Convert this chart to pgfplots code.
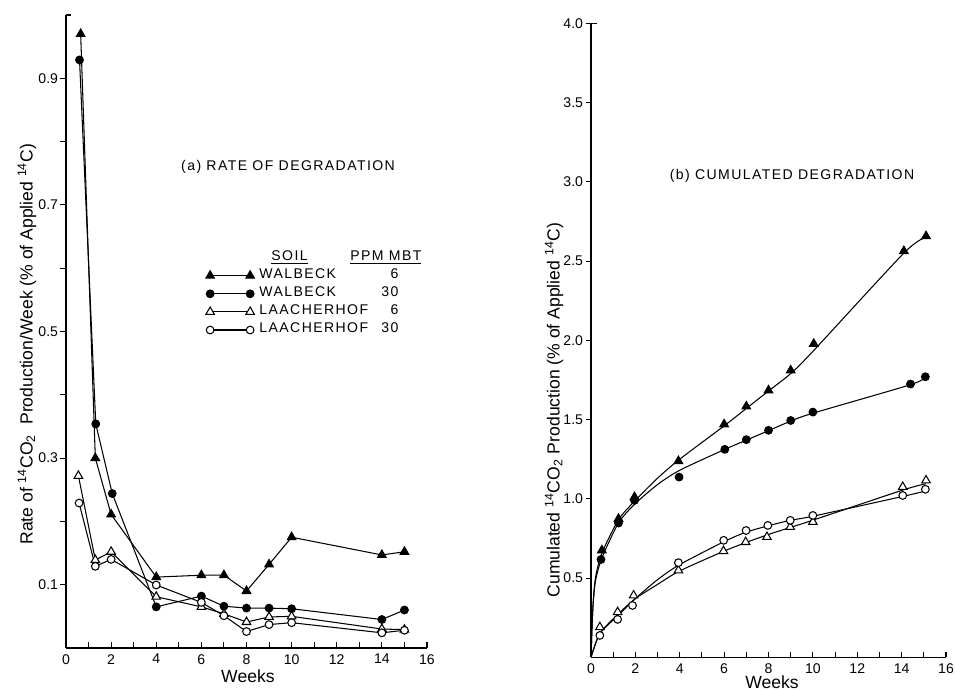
\documentclass[border=0pt]{standalone}
\usepackage{fontspec}
\setmainfont{Liberation Sans}
\newfontfamily\capsfont[LetterSpace=10]{Liberation Sans}
\usepackage{pgfplots}
\pgfplotsset{compat=1.18}

\newcommand\tickfont{\fontsize{8}{9.6}\selectfont}
\newcommand\labfont{\fontsize{9.5}{11}\selectfont}

\pgfplotsset{
  degr/.style={
    scale only axis,
    axis lines=left, axis line style={-, line width=0.6pt},
    xmin=0, xmax=16, ymin=0,
    xtick={0,2,...,16}, minor xtick={1,3,...,15},
    tick align=inside,
    major tick length=0.11cm, minor tick length=0.11cm,
    every tick/.style={black, line width=0.6pt},
    every major y tick/.append style={xshift=-0.11cm},
    every minor y tick/.append style={xshift=-0.11cm},
    /pgf/number format/assume math mode=true,
    tick label style={font=\tickfont},
    yticklabel style={/pgf/number format/fixed,
      /pgf/number format/precision=1,
      /pgf/number format/fixed zerofill, xshift=-1pt},
    xlabel={Weeks}, ylabel style={font=\labfont},
    xlabel style={font=\bfseries\fontsize{7.5}{9}\selectfont},
  },
  ln/.style={black, line width=0.6pt},
}

\begin{document}
\begin{tikzpicture}
\path[use as bounding box] (0,0) rectangle (19.1cm,13.8cm);

% (a) rate of degradation
\begin{axis}[degr,
  at={(1.32cm,0.84cm)}, anchor=south west,
  width=7.22cm, height=12.66cm,
  ymax=1.0,
  ytick={0.1,0.3,0.5,0.7,0.9}, minor ytick={0.2,0.4,0.6,0.8},
  every axis x label/.style={at={(axis description cs:0.504,0)}, anchor=center, yshift=-0.56cm},
  every axis y label/.style={at={(axis description cs:-0.108,0.48)}, rotate=90, anchor=center},
  ylabel={Rate of \textsuperscript{14}CO\textsubscript{2}\ \ Production/Week (\% of Applied \textsuperscript{14}C)},
  legend image code/.code={\draw[mark repeat=1,mark phase=1,#1] plot coordinates {(0cm,0cm) (0.8cm,0cm)};},
  legend style={draw=none, fill=none, at={(axis cs:6.2,0.631)}, anchor=north west,
    inner sep=0pt, outer sep=0pt, font=\capsfont\tickfont, column sep=0.1cm,
    nodes={inner sep=0pt, text height=6.8pt, text depth=3.5pt}},
  legend cell align=left,
]
\addlegendimage{empty legend}
\addlegendentry{\makebox[3.24cm][l]{\hspace{0.24cm}\underline{SOIL}\hfill\underline{PPM MBT}}}

\addplot[ln, mark=triangle*, mark size=2.8pt, mark options={fill=black, solid}] coordinates {
  (0.65,0.970) (1.3,0.300) (2.0,0.211) (4,0.112) (6,0.115) (7,0.115)
  (8,0.090) (9,0.132) (10,0.175) (14,0.147) (15,0.152)};
\addlegendentry{\makebox[3.24cm][l]{WALBECK\hfill 6\hspace{0.46cm}}}

\addplot[ln, mark=*, mark size=2.2pt, mark options={fill=black, solid}] coordinates {
  (0.6,0.929) (1.32,0.354) (2.05,0.244) (4,0.065) (6,0.082) (7,0.066)
  (8,0.063) (9,0.063) (10,0.062) (14,0.045) (15,0.060)};
\addlegendentry{\makebox[3.24cm][l]{WALBECK\hfill 30\hspace{0.46cm}}}

\addplot[ln, mark=triangle*, mark size=2.8pt, mark options={fill=white, solid}] coordinates {
  (0.55,0.272) (1.3,0.139) (2,0.152) (4,0.081) (6,0.065) (7,0.054)
  (8,0.041) (9,0.049) (10,0.050) (14,0.030) (15,0.029)};
\addlegendentry{\makebox[3.24cm][l]{LAACHERHOF\hfill 6\hspace{0.46cm}}}

\addplot[ln, mark=*, mark size=2.2pt, mark options={fill=white, solid}] coordinates {
  (0.58,0.229) (1.3,0.129) (2,0.140) (4,0.0995) (6,0.072) (7,0.051)
  (8,0.026) (9,0.037) (10,0.040) (14,0.024) (15,0.028)};
\addlegendentry{\makebox[3.24cm][l]{LAACHERHOF\hfill 30\hspace{0.46cm}}}

\node[font=\capsfont\tickfont] at (axis cs:9.84,0.76) {(a) RATE OF DEGRADATION};
\draw[line width=0.6pt] (axis cs:0,1) -- ++(0.11cm,0);
\end{axis}

% (b) cumulated degradation
\begin{axis}[degr,
  at={(11.82cm,0.654cm)}, anchor=south west,
  width=7.1cm, height=12.68cm,
  ymax=4.0,
  ytick={0.5,1.0,1.5,2.0,2.5,3.0,3.5,4.0},
  every axis x label/.style={at={(axis description cs:0.51,0)}, anchor=center, yshift=-0.5cm},
  every axis y label/.style={at={(axis description cs:-0.104,0.39)}, rotate=90, anchor=center},
  ylabel={Cumulated \textsuperscript{14}CO\textsubscript{2}\ Production (\% of Applied \textsuperscript{14}C)},
]
% fitted curves
\addplot[ln, smooth, tension=0.45] coordinates {
  (0,0) (0.08,0.3) (0.2,0.5) (0.5,0.66) (1.25,0.87) (2,0.99) (3,1.13) (4,1.25)
  (6,1.46) (7,1.57) (8,1.68) (9,1.79) (10,1.93) (14.1,2.55) (15.1,2.65)};
\addplot[ln, smooth, tension=0.45] coordinates {
  (0,0) (0.08,0.3) (0.2,0.48) (0.5,0.63) (1.25,0.85) (2,0.97) (3,1.09) (4,1.18)
  (6,1.31) (7,1.37) (8,1.43) (9,1.49) (10,1.54) (14.4,1.72) (15.1,1.77)};
\addplot[ln, smooth, tension=0.45] coordinates {
  (0,0) (0.4,0.15) (1.2,0.27) (2,0.37) (3,0.46) (4,0.545) (6,0.67) (7,0.725)
  (8,0.775) (9,0.82) (10,0.865) (14.05,1.055) (15.1,1.095)};
\addplot[ln, smooth, tension=0.45] coordinates {
  (0,0) (0.4,0.15) (1.2,0.26) (2,0.37) (3,0.49) (4,0.585) (6,0.73) (7,0.79)
  (8,0.83) (9,0.865) (10,0.89) (14.05,1.015) (15.1,1.05)};
% measured points
\addplot[only marks, mark=*, mark size=2.2pt, mark options={fill=black, line width=0.6pt}] coordinates {
  (0.45,0.617) (1.24,0.847) (1.96,0.99) (3.97,1.137) (6.03,1.312) (7,1.373)
  (8,1.432) (9,1.494) (10,1.547) (14.4,1.724) (15.07,1.77)};
\addplot[only marks, mark=triangle*, mark size=2.8pt, mark options={fill=black, line width=0.6pt}] coordinates {
  (0.49,0.675) (1.24,0.874) (1.96,1.011) (3.94,1.238) (6,1.47) (7,1.583)
  (8,1.684) (9,1.81) (10.04,1.978) (14.1,2.563) (15.1,2.657)};
\addplot[only marks, mark=triangle*, mark size=2.8pt, mark options={fill=white, line width=0.6pt}] coordinates {
  (0.4,0.19) (1.2,0.285) (1.92,0.39) (3.94,0.548) (5.97,0.67) (6.97,0.727)
  (7.93,0.759) (8.98,0.822) (10,0.854) (14.05,1.075) (15.1,1.116)};
\addplot[only marks, mark=*, mark size=2.2pt, mark options={fill=white, line width=0.6pt}] coordinates {
  (0.4,0.138) (1.2,0.239) (1.87,0.327) (3.94,0.597) (5.98,0.738) (6.99,0.80)
  (7.97,0.832) (8.98,0.864) (10,0.895) (14.05,1.021) (15.07,1.06)};

\node[font=\capsfont\tickfont] at (axis cs:9.06,3.04) {(b) CUMULATED DEGRADATION};
\draw[line width=0.6pt] (axis cs:0,4) -- ++(0.11cm,0);
\end{axis}
\end{tikzpicture}
\end{document}
